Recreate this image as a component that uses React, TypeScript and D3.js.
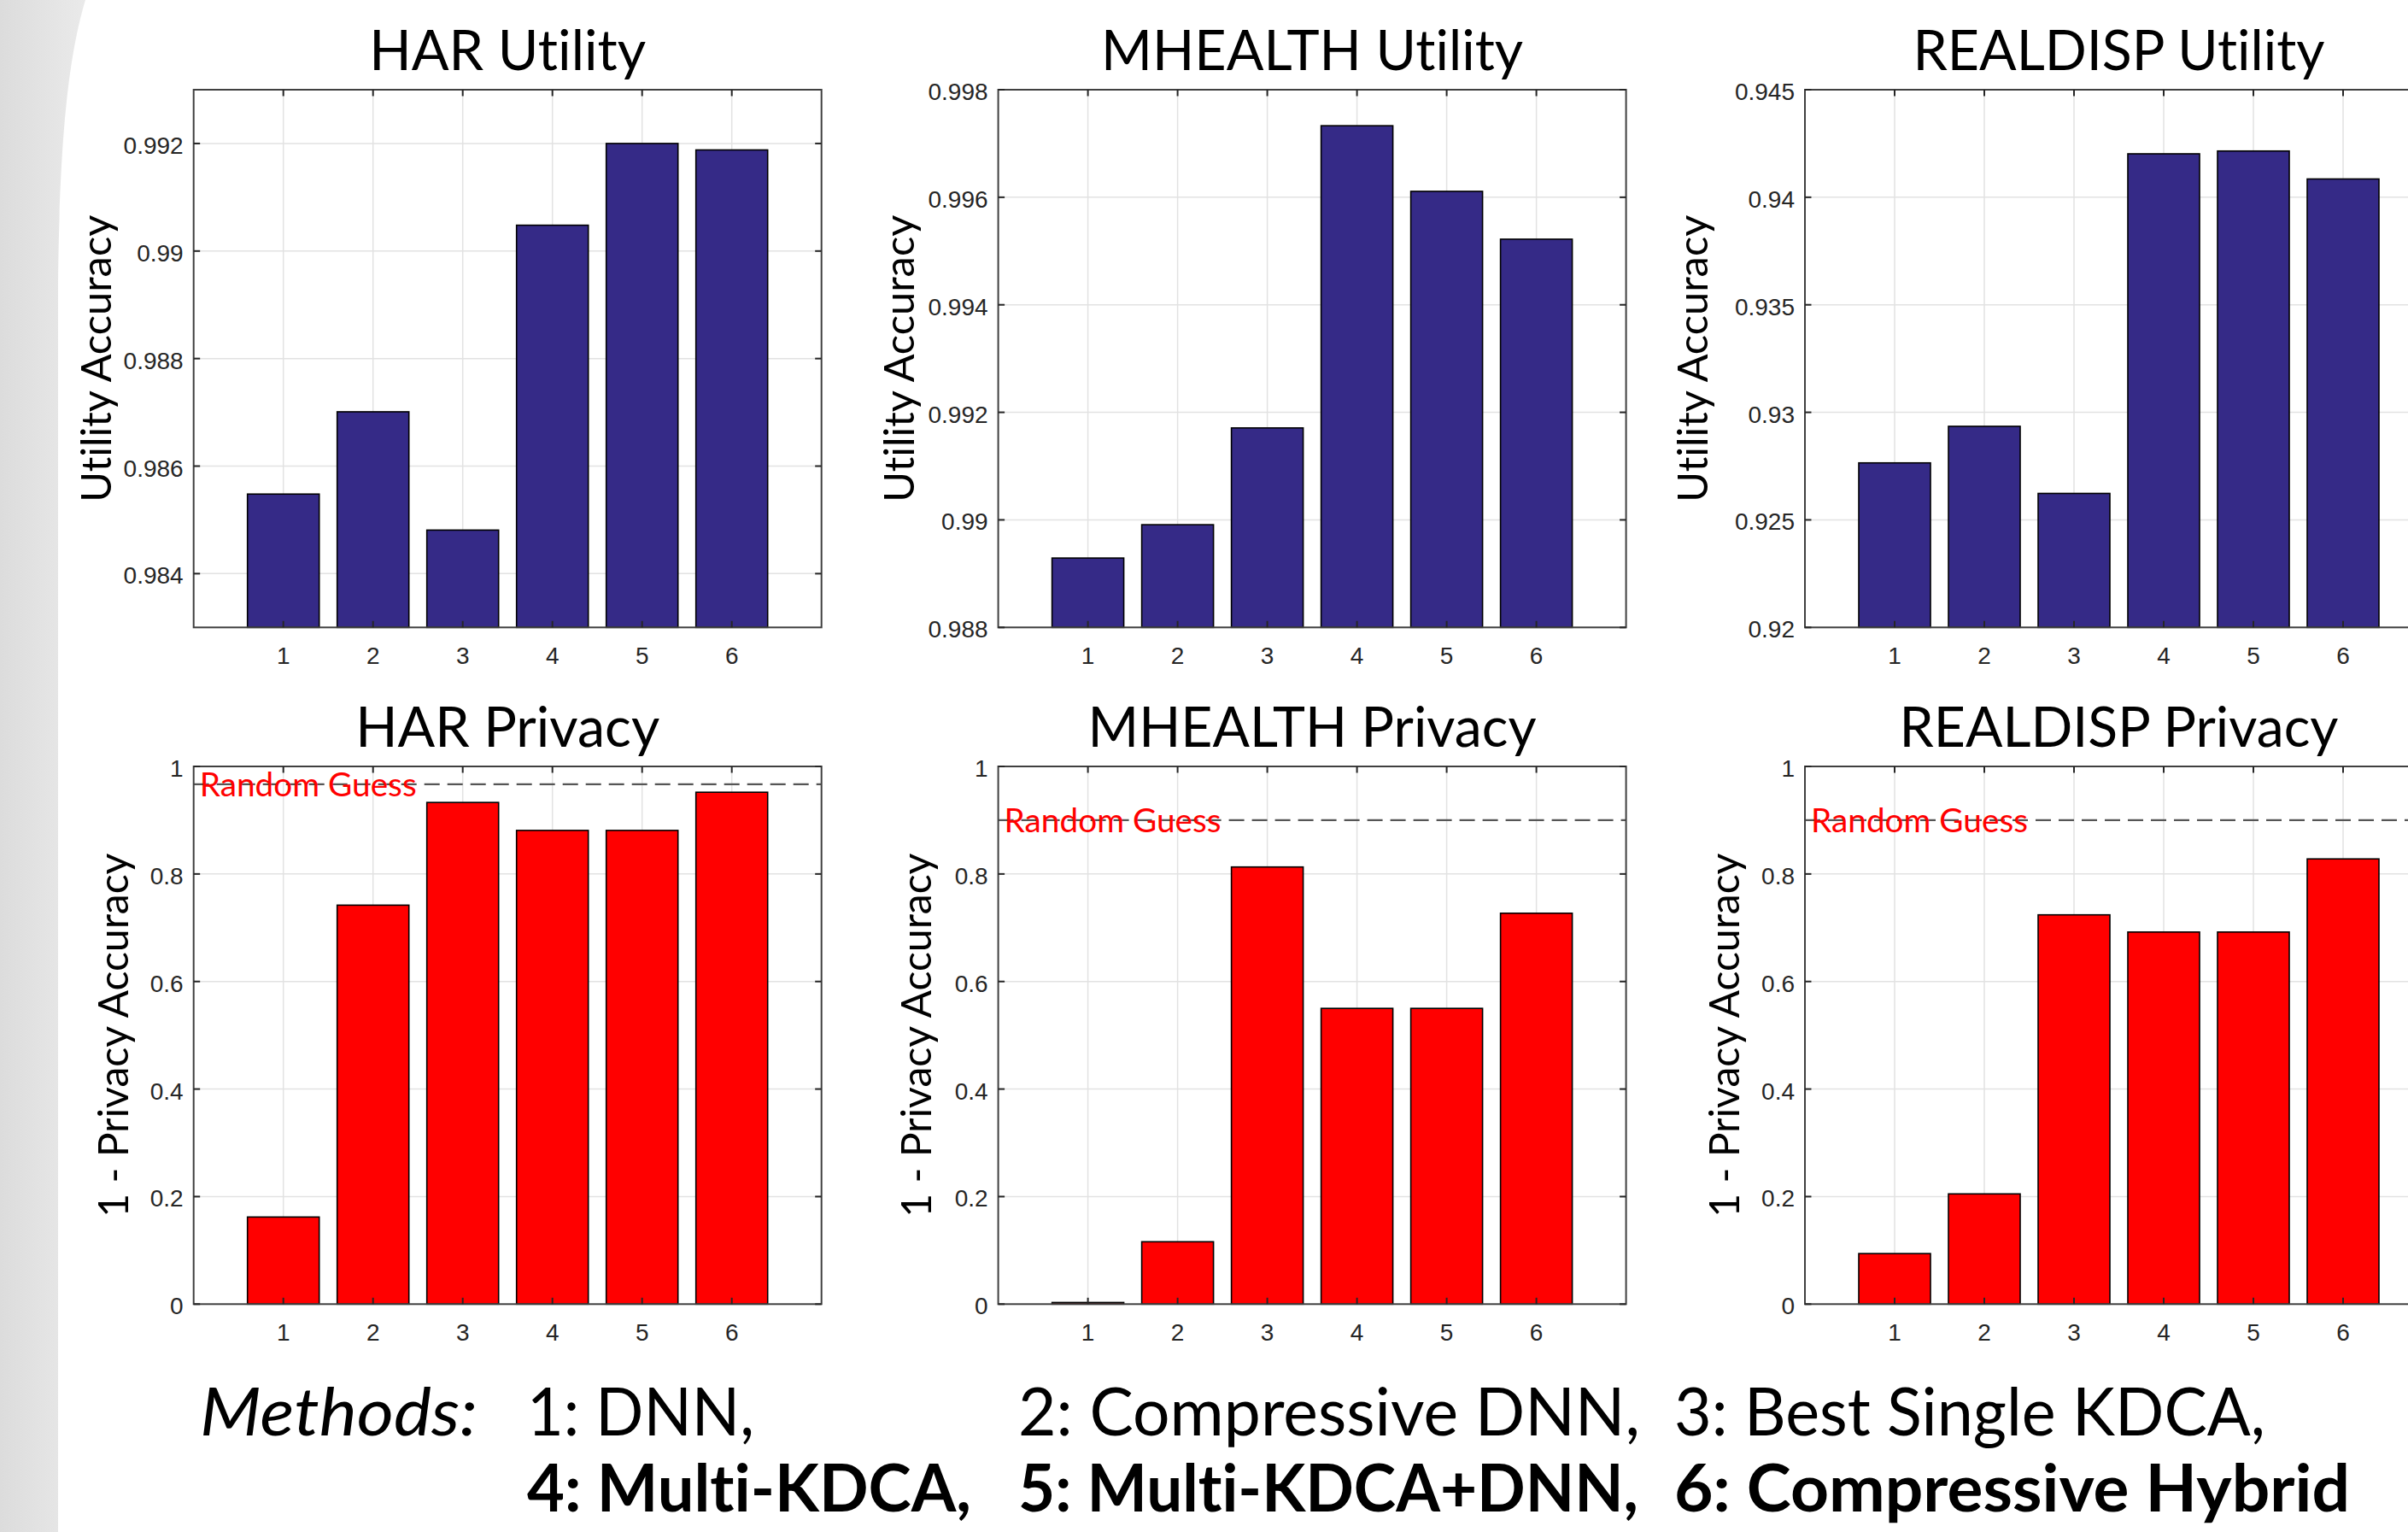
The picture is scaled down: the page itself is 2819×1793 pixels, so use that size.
import React from 'react'
import { scaleLinear } from 'd3'

// categories (methods on x axis)
const methods = ['1', '2', '3', '4', '5', '6']

// utility accuracy per dataset
const harUtility = [0.98548, 0.98701, 0.98481, 0.99048, 0.992, 0.99188]
const mhealthUtility = [0.98929, 0.98991, 0.99171, 0.99733, 0.99611, 0.99522]
const realdispUtility = [0.92765, 0.92935, 0.92623, 0.94202, 0.94215, 0.94085]

// 1 - privacy accuracy per dataset
const harPrivacy = [0.162, 0.742, 0.933, 0.881, 0.881, 0.952]
const mhealthPrivacy = [0.003, 0.116, 0.813, 0.55, 0.55, 0.727]
const realdispPrivacy = [0.094, 0.205, 0.724, 0.692, 0.692, 0.828]

// random guess reference levels
const harGuess = 0.9667
const mhealthGuess = 0.9
const realdispGuess = 0.9

// y ticks
const harUtilityTicks = [0.984, 0.986, 0.988, 0.99, 0.992]
const mhealthUtilityTicks = [0.988, 0.99, 0.992, 0.994, 0.996, 0.998]
const realdispUtilityTicks = [0.92, 0.925, 0.93, 0.935, 0.94, 0.945]
const privacyTicks = [0, 0.2, 0.4, 0.6, 0.8, 1]

const methodLine1 = ['1: DNN,', '2: Compressive DNN,', '3: Best Single KDCA,']
const methodLine2 = ['4: Multi-KDCA,', '5: Multi-KDCA+DNN,', '6: Compressive Hybrid']

// layout
const W = 2819
const H = 1793
const colLeft = [226.7, 1168.6, 2113]
const rowTop = [105, 897]
const axW = 735
const axH = 629.3
const utilLabelOff = [97, 99, 114]
const privLabelOff = [77, 79, 77]
const titleFont = 'Lato, "Open Sans", sans-serif'
const tickFont = '"Liberation Sans", Arial, sans-serif'
const noLig = { fontVariantLigatures: 'none' }

function Panel({ left, top, title, titleLen, values, domain, ticks, color, ylabel, ylabelLen, labelOff, guess }) {
  const x = scaleLinear().domain([0, methods.length + 1]).range([left, left + axW])
  const y = scaleLinear().domain(domain).range([top + axH, top])
  const bw = x(0.8) - x(0)
  const tl = 7.5
  const bottom = top + axH
  const right = left + axW
  return (
    <g>
      <text x={left + axW / 2} y={top - 23} textAnchor="middle" fontFamily={titleFont} fontSize={66} style={noLig}
        textLength={titleLen} lengthAdjust="spacingAndGlyphs" fill="#000">{title}</text>
      <rect x={left} y={top} width={axW} height={axH} fill="#fff" />
      {/* grid */}
      {methods.map((m, i) => (
        <line key={'gx' + m} x1={x(i + 1)} x2={x(i + 1)} y1={top} y2={bottom} stroke="#e2e2e2" strokeWidth={1.5} />
      ))}
      {ticks.map((t) => (
        <line key={'gy' + t} x1={left} x2={right} y1={y(t)} y2={y(t)} stroke="#e2e2e2" strokeWidth={1.5} />
      ))}
      {/* bars */}
      {values.map((v, i) => (
        <rect key={'b' + i} x={x(i + 1) - bw / 2} y={y(v)} width={bw} height={bottom - y(v)}
          fill={color} stroke="#000" strokeWidth={1.6} />
      ))}
      {guess !== undefined && (
        <g>
          <line x1={left} x2={right} y1={y(guess)} y2={y(guess)} stroke="#555" strokeWidth={2.2} strokeDasharray="18,9" />
          <text x={left + 7} y={y(guess) + 14} fontFamily={titleFont} fontSize={38} fill="#ff0000" style={noLig}
            textLength={254} lengthAdjust="spacingAndGlyphs">Random Guess</text>
        </g>
      )}
      {/* box */}
      <rect x={left} y={top} width={axW} height={axH} fill="none" stroke="#404040" strokeWidth={2} />
      {/* ticks, mirrored on all sides */}
      {methods.map((m, i) => (
        <g key={'tx' + m}>
          <line x1={x(i + 1)} x2={x(i + 1)} y1={bottom} y2={bottom - tl} stroke="#262626" strokeWidth={2} />
          <line x1={x(i + 1)} x2={x(i + 1)} y1={top} y2={top + tl} stroke="#262626" strokeWidth={2} />
          <text x={x(i + 1)} y={bottom + 42.5} textAnchor="middle" fontFamily={tickFont} fontSize={28} fill="#262626">{m}</text>
        </g>
      ))}
      {ticks.map((t) => (
        <g key={'ty' + t}>
          <line x1={left} x2={left + tl} y1={y(t)} y2={y(t)} stroke="#262626" strokeWidth={2} />
          <line x1={right} x2={right - tl} y1={y(t)} y2={y(t)} stroke="#262626" strokeWidth={2} />
          <text x={left - 12} y={y(t) + 12} textAnchor="end" fontFamily={tickFont} fontSize={28} fill="#262626">{String(t)}</text>
        </g>
      ))}
      <text transform={`translate(${left - labelOff},${top + axH / 2}) rotate(-90)`} textAnchor="middle" style={noLig}
        fontFamily={titleFont} fontSize={48} fill="#000" textLength={ylabelLen} lengthAdjust="spacingAndGlyphs">{ylabel}</text>
    </g>
  )
}

export default function App() {
  const utilLabel = 'Utility Accuracy'
  const privLabel = '1 - Privacy Accuracy'
  return (
    <svg width={W} height={H} viewBox={`0 0 ${W} ${H}`} style={{ position: 'absolute', left: 0, top: 0, display: 'block' }}>
      <defs>
        <linearGradient id="bgGray" x1="0" x2="1" y1="0" y2="0">
          <stop offset="0" stopColor="#dcdcdc" />
          <stop offset="1" stopColor="#eaeaea" />
        </linearGradient>
      </defs>
      <rect x={0} y={0} width={W} height={H} fill="#fff" />
      <path d="M0,0 H100 C82,60 70,150 68,330 V1793 H0 Z" fill="url(#bgGray)" />

      <Panel left={colLeft[0]} top={rowTop[0]} title="HAR Utility" titleLen={324} values={harUtility}
        domain={[0.983, 0.993]} ticks={harUtilityTicks} color="#352a87" ylabel={utilLabel} ylabelLen={336} labelOff={utilLabelOff[0]} />
      <Panel left={colLeft[1]} top={rowTop[0]} title="MHEALTH Utility" titleLen={494} values={mhealthUtility}
        domain={[0.988, 0.998]} ticks={mhealthUtilityTicks} color="#352a87" ylabel={utilLabel} ylabelLen={336} labelOff={utilLabelOff[1]} />
      <Panel left={colLeft[2]} top={rowTop[0]} title="REALDISP Utility" titleLen={482} values={realdispUtility}
        domain={[0.92, 0.945]} ticks={realdispUtilityTicks} color="#352a87" ylabel={utilLabel} ylabelLen={336} labelOff={utilLabelOff[2]} />

      <Panel left={colLeft[0]} top={rowTop[1]} title="HAR Privacy" titleLen={356} values={harPrivacy}
        domain={[0, 1]} ticks={privacyTicks} color="#ff0000" ylabel={privLabel} ylabelLen={426} labelOff={privLabelOff[0]} guess={harGuess} />
      <Panel left={colLeft[1]} top={rowTop[1]} title="MHEALTH Privacy" titleLen={525} values={mhealthPrivacy}
        domain={[0, 1]} ticks={privacyTicks} color="#ff0000" ylabel={privLabel} ylabelLen={426} labelOff={privLabelOff[1]} guess={mhealthGuess} />
      <Panel left={colLeft[2]} top={rowTop[1]} title="REALDISP Privacy" titleLen={514} values={realdispPrivacy}
        domain={[0, 1]} ticks={privacyTicks} color="#ff0000" ylabel={privLabel} ylabelLen={426} labelOff={privLabelOff[2]} guess={realdispGuess} />

      <g fontFamily={titleFont} fontSize={77} fill="#000" style={noLig}>
        <text x={234} y={1680} fontStyle="italic" textLength={325} lengthAdjust="spacingAndGlyphs">Methods:</text>
        <text x={617} y={1680} textLength={266} lengthAdjust="spacingAndGlyphs">{methodLine1[0]}</text>
        <text x={1192} y={1680} textLength={728} lengthAdjust="spacingAndGlyphs">{methodLine1[1]}</text>
        <text x={1960} y={1680} textLength={692} lengthAdjust="spacingAndGlyphs">{methodLine1[2]}</text>
        <text x={617} y={1769} fontWeight="bold" textLength={520} lengthAdjust="spacingAndGlyphs">{methodLine2[0]}</text>
        <text x={1192} y={1769} fontWeight="bold" textLength={726} lengthAdjust="spacingAndGlyphs">{methodLine2[1]}</text>
        <text x={1960} y={1769} fontWeight="bold" textLength={791} lengthAdjust="spacingAndGlyphs">{methodLine2[2]}</text>
      </g>
    </svg>
  )
}
